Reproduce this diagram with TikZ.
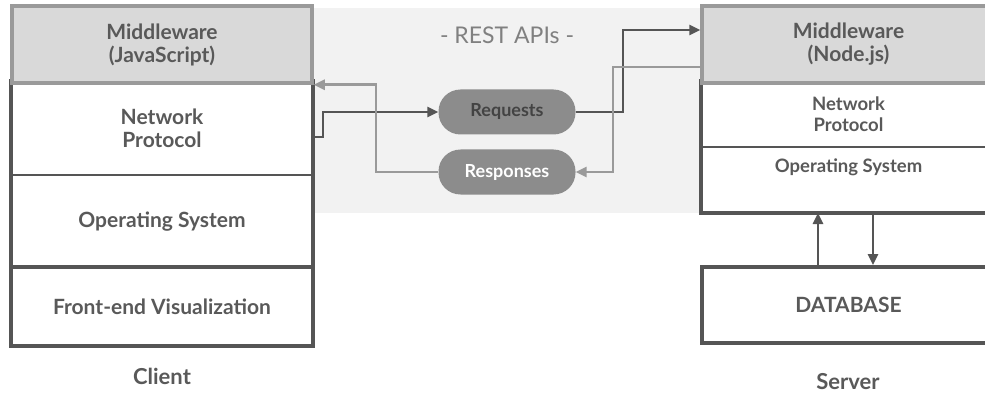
\documentclass[tikz,border=0pt]{standalone}
\usepackage{fontspec}
\setmainfont{Lato}
\usetikzlibrary{arrows.meta}
\definecolor{dk}{HTML}{555555}
\definecolor{lt}{HTML}{9A9A9A}
\definecolor{mwfill}{HTML}{D9D9D9}
\definecolor{bgc}{HTML}{F2F2F2}
\definecolor{pill}{HTML}{8C8C8C}
\definecolor{txt}{HTML}{595959}
\begin{document}
\begin{tikzpicture}[x=1pt,y=-1pt,
  layer/.style={rectangle, draw=dk, line width=2pt, inner sep=0pt, align=center,
    font=\fontsize{21}{23}\selectfont\bfseries, text=txt},
  smalltext/.style={font=\fontsize{18.5}{21}\selectfont\bfseries},
  mwbox/.style={layer, fill=mwfill, draw=lt, line width=3.5pt},
  pillbox/.style={rectangle, rounded corners=22pt, fill=pill, minimum width=137pt,
    minimum height=45pt, inner sep=0pt, font=\fontsize{18}{20}\selectfont\bfseries},
  reqline/.style={draw=dk, line width=2.5pt, -{Triangle[length=11pt,width=10pt]}},
  respline/.style={draw=lt, line width=2.5pt, -{Triangle[length=11pt,width=10pt]}},
  caption/.style={font=\fontsize{22}{24}\selectfont\bfseries, text=txt}
]
\useasboundingbox (0,0) rectangle (985,393);
\clip (0,0) rectangle (985,393);
% background band
\fill[bgc] (312,8) rectangle (702,213);

% left column
\node[layer, minimum width=300pt, minimum height=93pt] (lnp) at (162,128.5) {Network\\Protocol};
\node[layer, minimum width=300pt, minimum height=93pt] (los) at (162,221.5) {Operating System};
\node[layer, minimum width=300pt, minimum height=77pt] (lfe) at (162,306.5) {Front-end Visualization};
\draw[dk, line width=4pt] (lnp.north west) rectangle (lfe.south east);
\draw[dk, line width=4pt] (lfe.north west) -- (lfe.north east);
\node[mwbox, minimum width=300pt, minimum height=77pt] (lmw) at (162,44.5) {Middleware\\(JavaScript)};
\node[caption] (client) at (162,376) {Client};

% right column
\node[layer, smalltext, minimum width=293pt, minimum height=65pt] (rnp) at (848.5,114.5) {Network\\Protocol};
\node[layer, minimum width=293pt, minimum height=65pt] (ros) at (848.5,179.5) {};
\node[layer, smalltext, draw=none, anchor=north] (rostxt) at ([yshift=-12pt]ros.north) {Operating System};
\draw[dk, line width=4pt] (rnp.north west) rectangle (ros.south east);
\node[layer, line width=4pt, minimum width=293pt, minimum height=76pt] (rdb) at (848.5,305) {DATABASE};
\node[mwbox, minimum width=293pt, minimum height=77pt] (rmw) at (848.5,44.5) {Middleware\\(Node.js)};
\node[caption] (server) at (848,382) {Server};

% database arrows
\draw[reqline] ([xshift=-30.5pt]rdb.north) -- ([xshift=-30.5pt]ros.south);
\draw[reqline] ([xshift=24.5pt]ros.south) -- ([xshift=24.5pt]rdb.north);

% REST
\node[font=\fontsize{23}{26}\selectfont, text=gray] (rest) at (507,35) {- REST APIs -};
\node[pillbox, text=txt!75!black] (req) at (507,112) {Requests};
\node[pillbox, text=white] (resp) at (507,172) {Responses};

\draw[reqline] (lnp.east |- 0,137) -- (323,137) |- (req.west);
\draw[reqline] (req.east) -| (623,70) |- (rmw.west |- 0,30);
\draw[respline] (rmw.west |- 0,67) -| (613,120) |- (resp.east);
\draw[respline] (resp.west) -| (376,120) |- (lmw.south east);
\end{tikzpicture}
\end{document}
